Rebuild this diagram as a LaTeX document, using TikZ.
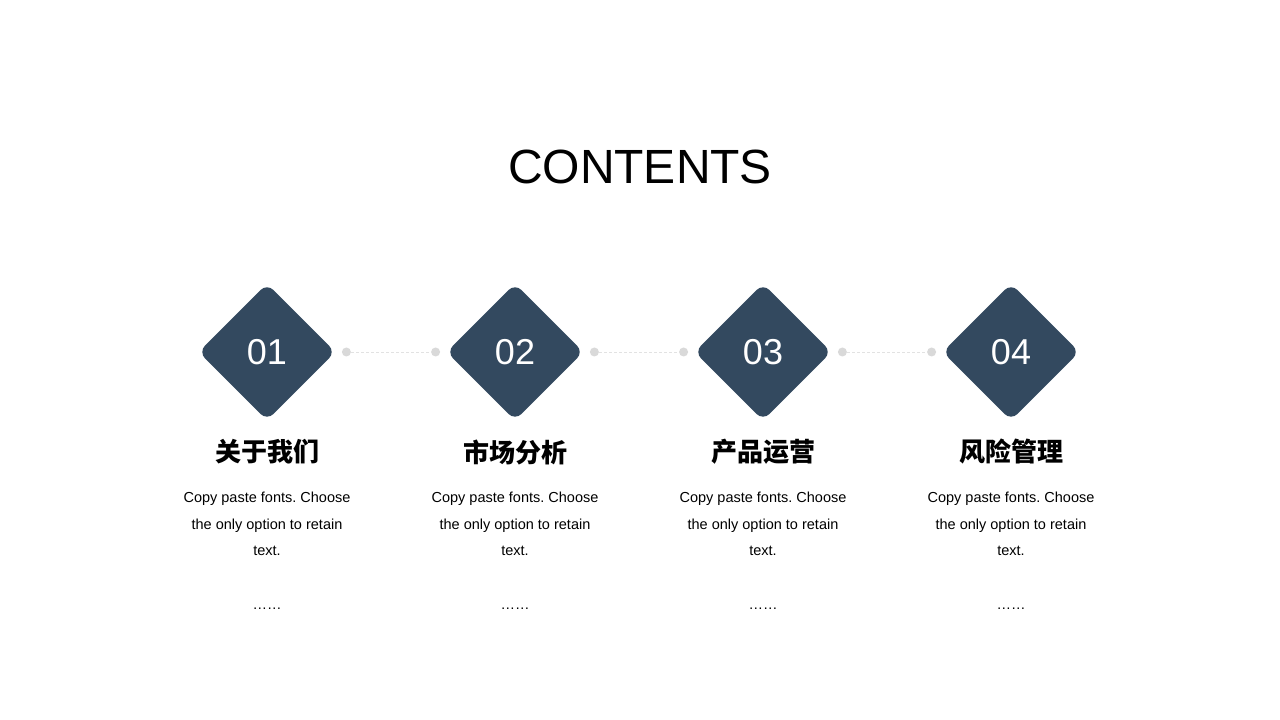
\documentclass[tikz,border=0pt]{standalone}
\usepackage{fontspec}
\setmainfont{Liberation Sans}
\newfontfamily\cjk{Noto Sans CJK SC}
\usetikzlibrary{shapes.geometric,positioning}
\definecolor{slate}{HTML}{33495F}
\definecolor{dotgrey}{HTML}{D9D9D9}
\definecolor{linegrey}{HTML}{E2E2E2}
\frenchspacing

\begin{document}
\begin{tikzpicture}[x=1pt, y=1pt,
    item/.style = {diamond, fill=slate, text=white, rounded corners=9pt, minimum width=137pt, minimum height=137pt, inner sep=0pt, font=\fontsize{36}{40}\selectfont},
    knob/.style = {circle, fill=dotgrey, minimum size=9pt, inner sep=0pt},
    link/.style = {linegrey, line width=0.8pt, dash pattern=on 3pt off 2pt},
    head/.style = {font=\cjk\bfseries\fontsize{26}{30}\selectfont},
    blurb/.style = {align=center, font=\fontsize{14.5}{26.5}\selectfont},
    node distance = 248pt]
    \useasboundingbox (0,0) rectangle (1280,720);
    \node (title) at (640,553) {\fontsize{48}{56}\selectfont CONTENTS};
    \node[item](1) at (267,368) {01};
    \node[item](2) [right of=1] {02};
    \node[item](3) [right of=2] {03};
    \node[item](4) [right of=3] {04};
    \node[knob](1r) [right=6pt of 1] {};
    \node[knob](2l) [left=6pt of 2] {};
    \node[knob](2r) [right=6pt of 2] {};
    \node[knob](3l) [left=6pt of 3] {};
    \node[knob](3r) [right=6pt of 3] {};
    \node[knob](4l) [left=6pt of 4] {};
    \draw[link] (1r) to (2l);
    \draw[link] (2r) to (3l);
    \draw[link] (3r) to (4l);
    \node[head](h1) at ([yshift=-100pt]1) {关于我们};
    \node[head](h2) at ([yshift=-100pt]2) {市场分析};
    \node[head](h3) at ([yshift=-100pt]3) {产品运营};
    \node[head](h4) at ([yshift=-100pt]4) {风险管理};
    \node[blurb](t1) at ([yshift=-172pt]1) {Copy paste fonts. Choose\\the only option to retain\\text.};
    \node[blurb](t2) at ([yshift=-172pt]2) {Copy paste fonts. Choose\\the only option to retain\\text.};
    \node[blurb](t3) at ([yshift=-172pt]3) {Copy paste fonts. Choose\\the only option to retain\\text.};
    \node[blurb](t4) at ([yshift=-172pt]4) {Copy paste fonts. Choose\\the only option to retain\\text.};
    \node[blurb, anchor=base](e1) at ([yshift=-258pt]1) {……};
    \node[blurb, anchor=base](e2) at ([yshift=-258pt]2) {……};
    \node[blurb, anchor=base](e3) at ([yshift=-258pt]3) {……};
    \node[blurb, anchor=base](e4) at ([yshift=-258pt]4) {……};
\end{tikzpicture}
\end{document}
